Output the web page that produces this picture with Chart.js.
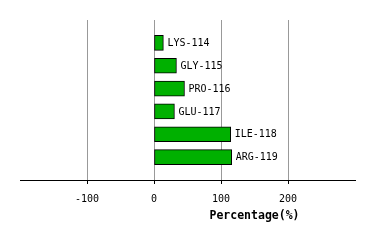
<!DOCTYPE html>
<html>
<head>
<meta charset="utf-8">
<script src="https://cdn.jsdelivr.net/npm/chart.js@4/dist/chart.umd.min.js"></script>
<style>
  html, body { margin: 0; padding: 0; background: #fff; }
  #wrap { width: 374px; height: 240px; }
</style>
</head>
<body>
<div id="wrap"><canvas id="chart" width="374" height="240"></canvas></div>
<script>
// residues and their percentage values
const residues = ["LYS-114", "GLY-115", "PRO-116", "GLU-117", "ILE-118", "ARG-119"];
const percentages = [14, 33.5, 45.5, 30.5, 114.5, 116];
const xTicks = [-100, 0, 100, 200];
const xTitle = "Percentage(%)";

// empty slots top and bottom keep the bars off the edges
const labels = [""].concat(residues, [""]);
const values = [null].concat(percentages, [null]);

const monoFont = "'DejaVu Sans Mono', monospace";

// bar-end labels, tick marks and the axis title
const textPlugin = {
  id: "barText",
  afterDatasetsDraw(chart) {
    const ctx = chart.ctx;
    const meta = chart.getDatasetMeta(0);
    const xScale = chart.scales.x;
    ctx.save();
    ctx.font = "10px " + monoFont;
    ctx.fillStyle = "#000";
    ctx.textAlign = "left";
    ctx.textBaseline = "middle";
    meta.data.forEach((bar, i) => {
      if (values[i] == null) return;
      ctx.fillText(labels[i], bar.x + 4, bar.y + 0.5);
    });
    // small black tick marks below the axis line
    ctx.strokeStyle = "#000";
    ctx.lineWidth = 1;
    ctx.beginPath();
    xTicks.forEach(v => {
      const px = Math.round(xScale.getPixelForValue(v)) + 0.5;
      ctx.moveTo(px, xScale.top);
      ctx.lineTo(px, xScale.top + 4);
    });
    ctx.stroke();
    ctx.font = "bold 11.5px " + monoFont;
    ctx.textAlign = "center";
    ctx.fillText(xTitle, 254.5, 216.5);
    ctx.restore();
  }
};

new Chart(document.getElementById("chart"), {
  type: "bar",
  data: {
    labels: labels,
    datasets: [{
      data: values,
      backgroundColor: "#00b000",
      borderColor: "#000",
      borderWidth: 1,
      borderSkipped: false,
      barThickness: 15
    }]
  },
  plugins: [textPlugin],
  options: {
    indexAxis: "y",
    responsive: false,
    animation: false,
    layout: { padding: { left: 20, right: 19, top: 20, bottom: 0 } },
    plugins: { legend: { display: false }, tooltip: { enabled: false } },
    scales: {
      y: { display: false, offset: false },
      x: {
        min: -200,
        max: 300,
        afterBuildTicks: (axis) => { axis.ticks = [-200].concat(xTicks, [300]).map(v => ({ value: v })); },
        afterFit: (axis) => { axis.height = 60; },
        ticks: {
          font: { family: monoFont, size: 10 },
          color: "#000",
          padding: 9,
          maxRotation: 0,
          callback: (v) => xTicks.includes(v) ? String(v) : ""
        },
        grid: {
          color: (c) => xTicks.includes(c.tick && c.tick.value) ? "#999" : "rgba(0,0,0,0)",
          tickColor: "rgba(0,0,0,0)",
          tickLength: 4,
          lineWidth: 1
        },
        border: { color: "#000", width: 1 }
      }
    }
  }
});
</script>
</body>
</html>
